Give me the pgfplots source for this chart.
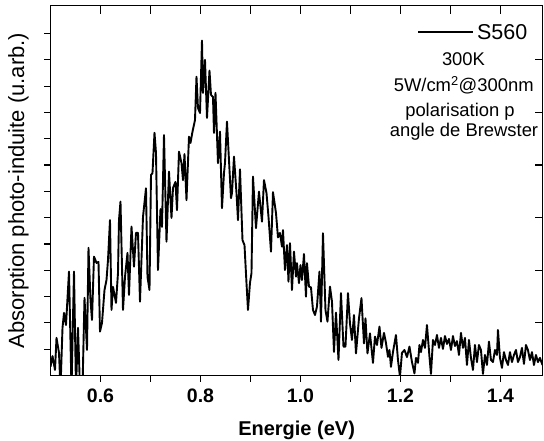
\documentclass[border=0pt]{standalone}
\usepackage{pgfplots}
\usepackage{pgfplotstable}
\pgfplotsset{compat=1.18}
\usepackage{fontspec}
\setmainfont{Liberation Sans}

\pgfplotstableread{
x y
0.500 0.33
0.504 0.74
0.509 0.21
0.512 1.43
0.517 0.86
0.520 -0.5
0.524 1.81
0.527 2.38
0.531 1.92
0.537 3.95
0.542 -0.5
0.547 3.95
0.551 -0.5
0.555 1.81
0.559 -0.5
0.564 -0.5
0.568 2.95
0.573 0.97
0.576 4.85
0.580 2.87
0.583 2.11
0.587 4.52
0.592 4.28
0.596 4.32
0.599 1.67
0.603 2.00
0.608 3.25
0.612 3.63
0.615 4.39
0.619 5.91
0.622 2.49
0.625 3.37
0.631 2.76
0.635 3.90
0.637 5.91
0.640 6.61
0.645 2.49
0.649 3.75
0.654 4.66
0.657 3.06
0.662 5.66
0.667 4.14
0.671 5.42
0.675 5.42
0.679 2.81
0.685 6.03
0.691 7.12
0.694 3.75
0.698 3.25
0.701 7.62
0.704 7.70
0.708 9.23
0.711 8.46
0.715 4.01
0.720 6.33
0.723 5.65
0.727 9.14
0.732 5.09
0.737 7.75
0.742 5.99
0.745 7.13
0.750 7.36
0.753 6.29
0.757 8.51
0.762 8.08
0.765 7.43
0.768 8.42
0.772 6.67
0.777 9.08
0.780 8.84
0.784 9.27
0.789 9.71
0.792 11.36
0.795 10.17
0.799 9.98
0.803 12.73
0.805 10.74
0.809 12.00
0.813 9.79
0.818 11.59
0.821 10.67
0.825 10.59
0.827 9.22
0.830 10.75
0.835 8.07
0.839 9.27
0.843 6.36
0.847 7.70
0.849 8.08
0.853 9.65
0.857 8.19
0.861 6.74
0.863 6.94
0.867 8.32
0.872 6.94
0.875 5.91
0.879 7.84
0.884 5.15
0.888 4.96
0.892 3.52
0.895 2.49
0.899 3.52
0.902 3.89
0.905 7.56
0.911 5.60
0.917 6.99
0.923 5.85
0.927 7.43
0.932 6.94
0.936 6.04
0.941 4.71
0.945 6.97
0.951 6.18
0.955 5.25
0.959 5.42
0.963 4.90
0.965 5.53
0.969 4.01
0.973 4.96
0.976 3.57
0.979 5.03
0.983 3.25
0.987 4.71
0.991 3.76
0.993 4.27
0.997 3.51
1.000 4.20
1.003 3.63
1.007 4.62
1.011 3.00
1.013 4.27
1.017 3.38
1.021 3.35
1.025 2.49
1.029 2.30
1.033 2.62
1.038 3.95
1.041 2.05
1.045 5.41
1.050 2.49
1.054 2.05
1.059 3.38
1.063 2.81
1.067 0.90
1.071 2.39
1.076 0.59
1.081 3.13
1.086 1.10
1.090 1.10
1.095 3.13
1.099 1.98
1.103 1.35
1.107 2.30
1.111 0.84
1.117 2.17
1.122 2.94
1.127 1.22
1.130 2.17
1.134 0.84
1.139 1.60
1.145 0.48
1.149 1.48
1.153 1.16
1.158 1.86
1.162 1.05
1.167 1.62
1.171 1.24
1.175 0.71
1.178 0.97
1.181 0.33
1.185 0.89
1.191 1.54
1.195 0.59
1.199 -0.05
1.203 0.86
1.208 0.97
1.213 0.70
1.218 1.10
1.223 0.51
1.228 0.08
1.231 0.67
1.235 0.48
1.238 1.16
1.241 0.89
1.245 1.35
1.249 1.05
1.253 1.92
1.258 0.71
1.261 0.06
1.265 1.35
1.269 1.16
1.273 1.54
1.277 1.05
1.281 1.43
1.285 1.01
1.289 1.50
1.293 1.20
1.297 1.39
1.301 0.97
1.305 1.50
1.309 1.12
1.313 1.31
1.317 0.78
1.321 1.62
1.325 1.05
1.329 1.43
1.333 0.40
1.337 1.35
1.341 0.67
1.345 0.21
1.349 1.16
1.353 0.51
1.357 1.16
1.361 0.97
1.365 0.06
1.369 0.78
1.373 0.40
1.377 1.29
1.381 0.59
1.385 0.51
1.389 0.97
1.393 0.78
1.395 1.73
1.399 0.67
1.403 0.29
1.407 0.89
1.411 0.59
1.415 0.40
1.419 0.89
1.423 0.51
1.427 0.78
1.431 0.97
1.435 0.51
1.439 0.70
1.443 1.05
1.447 0.44
1.451 1.16
1.455 0.97
1.459 0.59
1.463 0.89
1.467 0.40
1.471 0.78
1.475 0.51
1.479 0.67
1.484 0.40
}\spectrum

\begin{document}
\begin{tikzpicture}
\path[use as bounding box] (-50.5bp,-65.5bp) rectangle (493.5bp,375.5bp);
\begin{axis}[
  at={(0,0)}, anchor=south west,
  scale only axis, width=492.2bp, height=369.8bp,
  xmin=0.5, xmax=1.4845, ymin=0, ymax=14.06,
  axis line style={line width=1.2bp},
  xtick={0.6,0.8,1.0,1.2,1.4},
  minor xtick={0.7,0.9,1.1,1.3},
  ytick={1,2,3,4,5,6,7,8,9,10,11,12,13},
  yticklabels={},
  xtick pos=left, ytick pos=left,
  tick align=outside,
  major tick length=6bp, minor tick length=6bp,
  every tick/.style={line width=1.2bp, black},
  xticklabel style={font=\fontsize{19.5bp}{20bp}\selectfont\bfseries, anchor=base, yshift=-21bp},
  xticklabel={\pgfmathprintnumber[fixed,fixed zerofill,precision=1,assume math mode=true]{\tick}},
  xlabel={Energie (eV)},
  xlabel style={font=\fontsize{20bp}{22bp}\selectfont\bfseries, at={(axis description cs:0.5,-0.1623)}, anchor=base},
  ylabel={Absorption photo-induite (u.arb.)},
  ylabel style={font=\fontsize{22bp}{24bp}\selectfont, at={(axis description cs:-0.0538,0.5)}, anchor=base, rotate=0},
  legend cell align=left,
  legend style={draw=none, fill=none, at={(axis description cs:0.7452,0.928)}, anchor=west,
    inner sep=0pt, font=\fontsize{21.5bp}{22bp}\selectfont, column sep=3.3bp,
    nodes={inner sep=0pt, text depth=0pt}},
  legend image code/.code={\draw[#1] (0bp,0bp) -- (54.4bp,0bp);},
]
\addplot[black, line width=1.9bp, line join=round] table[x=x, y=y] {\spectrum};
\addlegendentry{S560}
\end{axis}
\begin{axis}[
  at={(0,0)}, anchor=south west,
  scale only axis, width=492.2bp, height=369.8bp,
  xmin=0.5, xmax=1.4845, ymin=0, ymax=14.06,
  axis line style={line width=1.2bp},
  xtick={0.6,0.7,0.8,0.9,1.0,1.1,1.2,1.3,1.4},
  ytick={2,4,6,8,10,12},
  xticklabels={}, yticklabels={},
  xtick pos=right, ytick pos=right,
  tick align=inside,
  major tick length=8bp,
  every tick/.style={line width=1.2bp, black},
]
\end{axis}
\begin{scope}[every node/.style={font=\fontsize{18.4bp}{20bp}\selectfont, anchor=base, inner sep=0pt}]
\node at (413bp,309.8bp) {300K};
\node at (413.2bp,283.8bp) {5W/cm\textsuperscript{2}@300nm};
\node at (409.5bp,258.8bp) {polarisation p};
\node at (413.5bp,238.8bp) {angle de Brewster};
\end{scope}
\end{tikzpicture}
\end{document}
